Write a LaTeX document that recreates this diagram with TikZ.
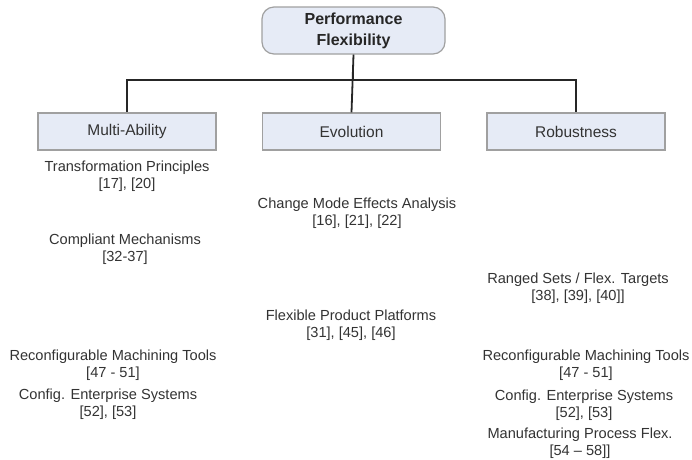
\documentclass[tikz,border=0pt]{standalone}
\usepackage{fontspec}
\setmainfont{Liberation Sans}
\begin{document}
\begin{tikzpicture}[x=1pt,y=-1pt,
  txt/.style={align=center,text=textgray,font=\fontsize{14.6}{17}\selectfont,inner sep=0pt},
  catbox/.style={draw=boxgray,line width=1.2pt,fill=boxfill,minimum width=178pt,minimum height=37pt,text=textgray,font=\fontsize{15.5}{18}\selectfont,inner sep=0pt},
  topbox/.style={draw=boxgray,line width=1.2pt,fill=boxfill,rounded corners=12pt,minimum width=183pt,minimum height=47pt,align=center,font=\bfseries\fontsize{16}{21}\selectfont,text=black!85,inner sep=0pt},
  conn/.style={draw=black!85,line width=1.8pt}]
\definecolor{textgray}{HTML}{333333}
\definecolor{boxgray}{HTML}{A0A0A0}
\definecolor{boxfill}{HTML}{E6EBF6}
\useasboundingbox[fill=white] (0,0) rectangle (692,459);
\node[topbox] (top) at (353.5,30.5) {Performance\\Flexibility};
\node[catbox] (ma) at (127,131.5) {Multi-Ability};
\node[catbox] (ev) at (351.5,131.5) {Evolution};
\node[catbox] (ro) at (576,131.5) {Robustness};
\draw[conn] (top.south) -- ++(0,25) -| (ma.north);
\draw[conn] (top.south) -- ++(0,25) -| (ro.north);
\draw[conn] (top.south) -- (ev.north);
\node[txt] (t1) at (127,176) {Transformation Principles\\{}[17], [20]};
\node[txt] (t2) at (357,213) {Change Mode Effects Analysis\\{}[16], [21], [22]};
\node[txt] (t3) at (125,249) {Compliant Mechanisms\\{}[32-37]};
\node[txt] (t4) at (351,325) {Flexible Product Platforms\\{}[31], [45], [46]};
\node[txt] (t5) at (578,288) {Ranged Sets / Flex. Targets\\{}[38], [39], [40]]};
\node[txt] (t6) at (113,365) {Reconfigurable Machining Tools\\{}[47 - 51]};
\node[txt] (t7) at (108,404) {Config. Enterprise Systems\\{}[52], [53]};
\node[txt] (t8) at (586,365) {Reconfigurable Machining Tools\\{}[47 - 51]};
\node[txt] (t9) at (584,405) {Config. Enterprise Systems\\{}[52], [53]};
\node[txt] (t10) at (580,443) {Manufacturing Process Flex.\\{}[54 -- 58]]};
\end{tikzpicture}
\end{document}
